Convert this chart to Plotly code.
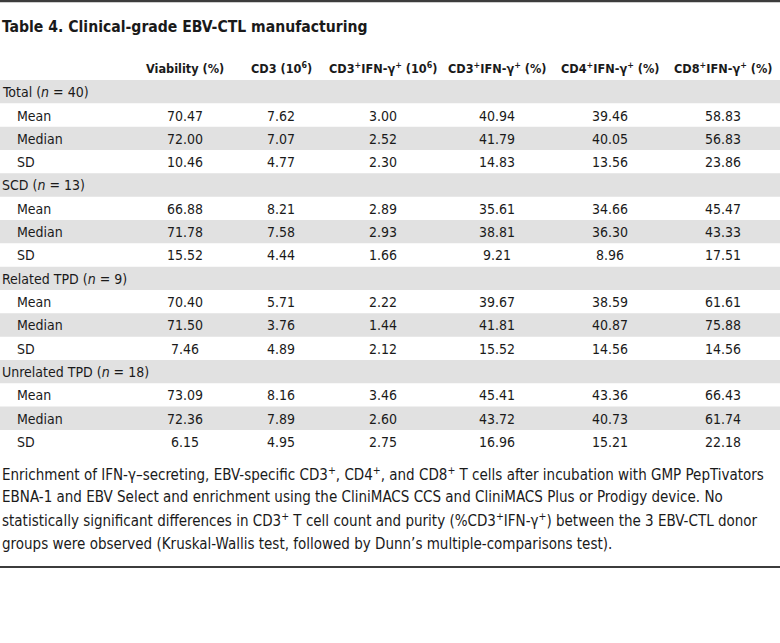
import plotly.graph_objects as go

# ---------------- data ----------------
title_text = "Table 4. Clinical-grade EBV-CTL manufacturing"
col_headers = [
    "Viability (%)",
    "CD3 (10<sup>6</sup>)",
    "CD3<sup>+</sup>IFN-γ<sup>+</sup> (10<sup>6</sup>)",
    "CD3<sup>+</sup>IFN-γ<sup>+</sup> (%)",
    "CD4<sup>+</sup>IFN-γ<sup>+</sup> (%)",
    "CD8<sup>+</sup>IFN-γ<sup>+</sup> (%)",
]
groups = ["Total", "SCD", "Related TPD", "Unrelated TPD"]
group_n = [40, 13, 9, 18]
stats = ["Mean", "Median", "SD"]

total_vals = [
    [70.47, 7.62, 3.00, 40.94, 39.46, 58.83],
    [72.00, 7.07, 2.52, 41.79, 40.05, 56.83],
    [10.46, 4.77, 2.30, 14.83, 13.56, 23.86],
]
scd_vals = [
    [66.88, 8.21, 2.89, 35.61, 34.66, 45.47],
    [71.78, 7.58, 2.93, 38.81, 36.30, 43.33],
    [15.52, 4.44, 1.66, 9.21, 8.96, 17.51],
]
related_vals = [
    [70.40, 5.71, 2.22, 39.67, 38.59, 61.61],
    [71.50, 3.76, 1.44, 41.81, 40.87, 75.88],
    [7.46, 4.89, 2.12, 15.52, 14.56, 14.56],
]
unrelated_vals = [
    [73.09, 8.16, 3.46, 45.41, 43.36, 66.43],
    [72.36, 7.89, 2.60, 43.72, 40.73, 61.74],
    [6.15, 4.95, 2.75, 16.96, 15.21, 22.18],
]
group_vals = [total_vals, scd_vals, related_vals, unrelated_vals]

caption_lines = [
    "Enrichment of IFN-γ–secreting, EBV-specific CD3<sup>+</sup>, CD4<sup>+</sup>, and CD8<sup>+</sup> T cells after incubation with GMP PepTivators",
    "EBNA-1 and EBV Select and enrichment using the CliniMACS CCS and CliniMACS Plus or Prodigy device. No",
    "statistically significant differences in CD3<sup>+</sup> T cell count and purity (%CD3<sup>+</sup>IFN-γ<sup>+</sup>) between the 3 EBV-CTL donor",
    "groups were observed (Kruskal-Wallis test, followed by Dunn’s multiple-comparisons test).",
]

# ---------------- layout constants ----------------
W, H = 780, 643
FONT = "DejaVu Sans Condensed, DejaVu Sans, sans-serif"
TXT = "#1a1a1a"
GRAY = "#e1e1e1"
col_x = [185, 281, 383, 497, 610, 723]
row_top0 = 80.0
row_h = 23.33
title_y = 27
header_y = 68
caption_y0 = 474
caption_dy = 23.2
bottom_line_y = 567

ann = []
shapes = []

def text(x, y, s, size=14, bold=False, anchor="center", color=TXT):
    if bold:
        s = "<b>" + s + "</b>"
    ann.append(dict(x=x, y=y, xref="x", yref="y", text=s, showarrow=False,
                    xanchor=anchor, yanchor="middle",
                    font=dict(family=FONT, size=size, color=color)))

# title
text(0, title_y, title_text, size=15.6, bold=True, anchor="left")
# headers
for cx, h in zip(col_x, col_headers):
    text(cx, header_y, h, size=12.6, bold=True)

# rows
r = 0
for g, n, vals in zip(groups, group_n, group_vals):
    top = row_top0 + r * row_h
    shapes.append(dict(type="rect", xref="x", yref="y", x0=0, x1=W, y0=top, y1=top + row_h,
                       fillcolor=GRAY, line=dict(width=0), layer="below"))
    text(0, top + row_h / 2 + 0.5, f"{g} (<i>n</i> = {n})", anchor="left")
    r += 1
    for s, rowvals in zip(stats, vals):
        top = row_top0 + r * row_h
        if s == "Median":
            shapes.append(dict(type="rect", xref="x", yref="y", x0=0, x1=W, y0=top, y1=top + row_h,
                               fillcolor=GRAY, line=dict(width=0), layer="below"))
        text(15, top + row_h / 2 + 0.5, s, anchor="left")
        for cx, v in zip(col_x, rowvals):
            text(cx, top + row_h / 2 + 0.5, f"{v:.2f}")
        r += 1

# caption
for i, line in enumerate(caption_lines):
    text(0, caption_y0 + i * caption_dy, line, size=15, anchor="left")

# rules
shapes.append(dict(type="line", xref="x", yref="y", x0=0, x1=W, y0=1, y1=1,
                   line=dict(color="#3c3c3c", width=2.5)))
shapes.append(dict(type="line", xref="x", yref="y", x0=0, x1=W, y0=bottom_line_y, y1=bottom_line_y,
                   line=dict(color="#3c3c3c", width=2)))

fig = go.Figure()
fig.add_trace(go.Scatter(x=[0, W], y=[0, H], mode="markers", marker=dict(opacity=0),
                         hoverinfo="skip", showlegend=False))

fig.update_layout(
    width=W, height=H,
    margin=dict(l=0, r=0, t=0, b=0),
    paper_bgcolor="white", plot_bgcolor="white",
    xaxis=dict(range=[0, W], visible=False, fixedrange=True),
    yaxis=dict(range=[H, 0], visible=False, fixedrange=True),
    annotations=ann, shapes=shapes, showlegend=False,
)
fig.write_html("out.html", post_script="document.body.style.margin='0';",
               config={"displayModeBar": False})
